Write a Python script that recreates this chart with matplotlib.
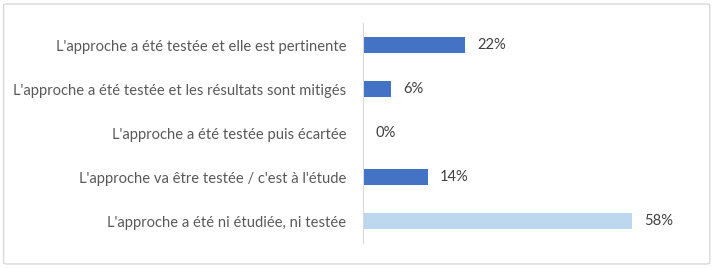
import matplotlib.pyplot as plt
from matplotlib.patches import FancyBboxPatch

categories = [
    "L'approche a été testée et elle est pertinente",
    "L'approche a été testée et les résultats sont mitigés",
    "L'approche a été testée puis écartée",
    "L'approche va être testée / c'est à l'étude",
    "L'approche a été ni étudiée, ni testée",
]
values = [22, 6, 0, 14, 58]
colors = ['#4472C4', '#4472C4', '#4472C4', '#4472C4', '#BDD7EE']

plt.rcParams['font.family'] = ['Lato', 'DejaVu Sans']

fig = plt.figure(figsize=(7.17, 2.68), dpi=100)

# outer frame
frame = FancyBboxPatch((0.005, 0.015), 0.985, 0.97, boxstyle='round,pad=0,rounding_size=0.005',
                       transform=fig.transFigure, facecolor='none', edgecolor='#D9D9D9',
                       linewidth=1, zorder=-1)
fig.patches.append(frame)

ax = fig.add_axes([363 / 717, 25 / 268, 337 / 717, 220 / 268])
ax.patch.set_alpha(0)

y = range(len(categories))
ax.barh(y, values, height=0.36, color=colors)
ax.set_ylim(4.5, -0.5)
ax.set_xlim(0, 72.6)

for i, v in enumerate(values):
    ax.text(v + 2.6, i, f'{v}%', va='center', ha='left', fontsize=10.6, color='#404040')

ax.set_yticks(list(y))
ax.set_yticklabels(categories, fontsize=10.6, color='#595959')
ax.tick_params(axis='y', length=0, pad=12)
ax.set_xticks([])
for s in ['top', 'right', 'bottom']:
    ax.spines[s].set_visible(False)
ax.spines['left'].set_color('#D9D9D9')

fig.savefig('out.png', dpi=100)
